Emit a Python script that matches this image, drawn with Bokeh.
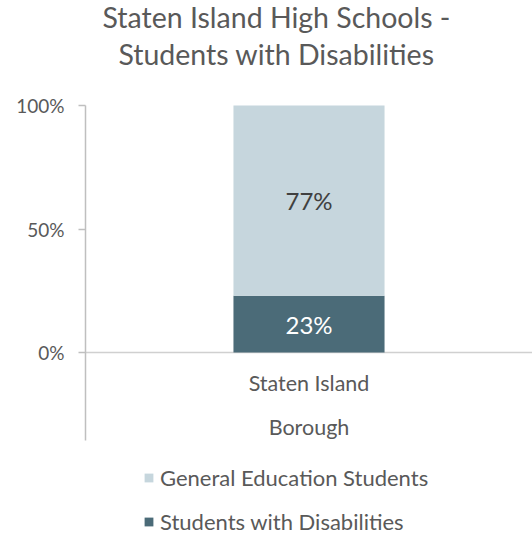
from bokeh.plotting import figure
from bokeh.models import (ColumnDataSource, FactorRange, Range1d, FixedTicker,
                          NumeralTickFormatter, Span, Legend, LegendItem, Label)
from bokeh.core.properties import value
from bokeh.embed import file_html
from bokeh.resources import INLINE

# ---- data ----
title_lines = ["Staten Island High Schools -", "Students with Disabilities"]
categories = ["Staten Island Borough"]
category_label_lines = ["Staten Island", "Borough"]
series_names = ["Students with Disabilities", "General Education Students"]
disabilities = [0.23]
general = [0.77]
y_ticks = [0, 0.5, 1.0]

FONT = "Lato"
DARK = "#4b6b78"
LIGHT = "#c6d6dd"
TEXT = "#595959"
AXIS = "#bfbfbf"

W, H = 532, 533
LEFT = 85          # frame left edge (px)
ZERO_PX = 352      # pixel row of 0%
TOP_PX = 105       # pixel row of 100%
UNIT = ZERO_PX - TOP_PX  # pixels per 100%

swd_mid = [d / 2 for d in disabilities]
gen_mid = [d + g / 2 for d, g in zip(disabilities, general)]

src = ColumnDataSource(dict(
    cat=categories, swd=disabilities, gen=general,
    swd_mid=swd_mid, gen_mid=gen_mid,
    swd_lbl=[f"{round(v*100)}%" for v in disabilities],
    gen_lbl=[f"{round(v*100)}%" for v in general],
))

y_start = -(H - ZERO_PX) / UNIT
y_end = 1.0 + TOP_PX / UNIT

p = figure(x_range=FactorRange(*categories), y_range=Range1d(y_start, y_end),
           width=W, height=H, output_backend="svg", toolbar_location=None,
           x_axis_location=None,
           min_border_left=LEFT, min_border_right=0, min_border_top=0,
           min_border_bottom=0)
p.title.visible = False
p.outline_line_color = None
p.xgrid.visible = False
p.ygrid.visible = False

base = Span(location=0, dimension="width", line_color="#d0d0d0", line_width=1.5,
            level="underlay")
p.add_layout(base)

rs = p.vbar_stack(["swd", "gen"], x="cat", width=0.338, color=[DARK, LIGHT],
                  line_color=None, source=src)

p.text(x="cat", y="swd_mid", text="swd_lbl", source=src, text_align="center",
       text_baseline="middle", text_font=value(FONT), text_font_size="24px",
       text_color="white")
p.text(x="cat", y="gen_mid", text="gen_lbl", source=src, text_align="center",
       text_baseline="middle", text_font=value(FONT), text_font_size="24px",
       text_color="#404040")

for line, off in zip(category_label_lines, [30, 74]):
    p.text(x=categories, y=[0], text=[line], y_offset=off, text_align="center",
           text_baseline="middle", text_font=value(FONT),
           text_font_size="21.5px", text_color=TEXT)

ax = p.yaxis[0]
ax.ticker = FixedTicker(ticks=y_ticks)
ax.formatter = NumeralTickFormatter(format="0%")
ax.bounds = (-(440 - ZERO_PX) / UNIT, 1.0)
ax.axis_line_color = AXIS
ax.axis_line_width = 1.5
ax.major_tick_line_color = AXIS
ax.major_tick_line_width = 1.5
ax.major_tick_out = 7
ax.major_tick_in = 0
ax.minor_tick_line_color = None
ax.major_label_standoff = 14
ax.major_label_text_font = FONT
ax.major_label_text_font_size = "19px"
ax.major_label_text_color = TEXT

legend = Legend(items=[LegendItem(label=value(series_names[1]), renderers=[rs[1]]),
                       LegendItem(label=value(series_names[0]), renderers=[rs[0]])],
                location=(143 - LEFT, -2), orientation="vertical",
                glyph_width=11, glyph_height=11, label_standoff=6, spacing=16,
                padding=0, margin=0, border_line_color=None,
                background_fill_alpha=0, label_text_font=FONT,
                label_text_font_size="22px", label_text_color=TEXT, label_height=28)
p.add_layout(legend)

for line, yb in zip(title_lines, [28, 65]):
    p.add_layout(Label(x=276 - LEFT, y=H - yb + 12, x_units="screen", y_units="screen",
                       text=line, text_align="center", text_baseline="alphabetic",
                       text_font=FONT, text_font_size="28.5px", text_color=TEXT))

open("out.html", "w").write(file_html(p, INLINE))
